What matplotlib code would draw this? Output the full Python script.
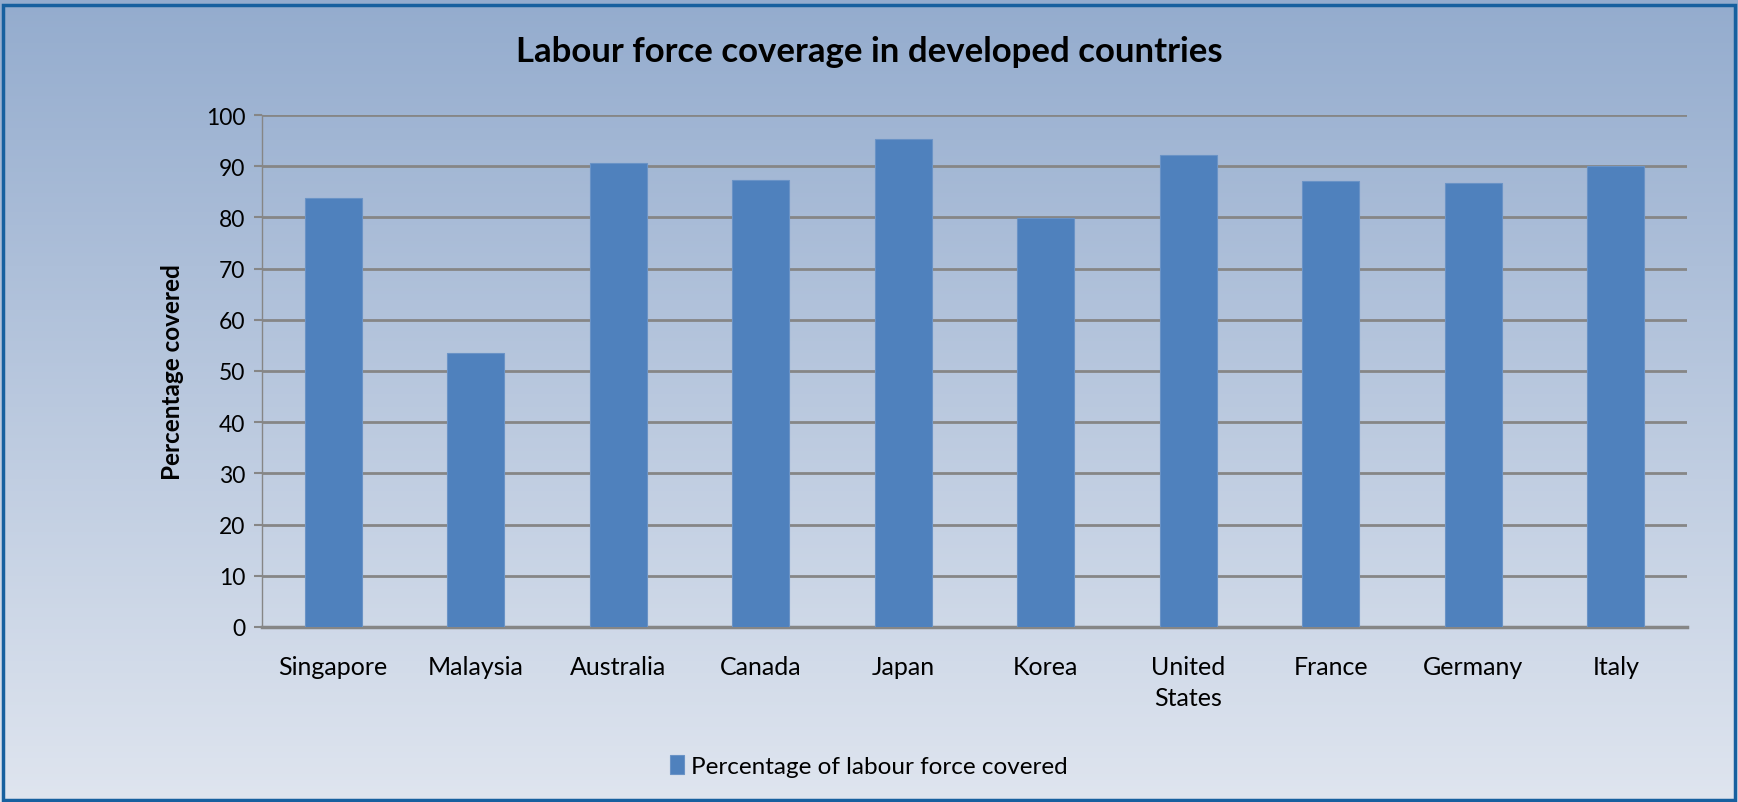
import numpy as np
import matplotlib
matplotlib.use('Agg')
import matplotlib.pyplot as plt
from matplotlib.patches import Rectangle

# values
countries = ['Singapore', 'Malaysia', 'Australia', 'Canada', 'Japan', 'Korea',
             'United\nStates', 'France', 'Germany', 'Italy']
covered = [83.8, 53.5, 90.6, 87.3, 95.3, 79.9, 92.1, 87.2, 86.8, 90.0]
yticks = [0, 10, 20, 30, 40, 50, 60, 70, 80, 90, 100]

plt.rcParams['font.family'] = ['Lato', 'DejaVu Sans']

fig = plt.figure(figsize=(17.38, 8.03), dpi=100)

# gradient background
bg = fig.add_axes([0, 0, 1, 1], zorder=-10)
top = np.array([0x94, 0xac, 0xce]) / 255
bot = np.array([0xdf, 0xe5, 0xef]) / 255
t = np.linspace(0, 1, 256)[:, None]
grad = top[None, :] * (1 - t) + bot[None, :] * t
bg.imshow(grad[:, None, :], aspect='auto', extent=[0, 1, 0, 1])
bg.add_patch(Rectangle((0.002, 0.003), 0.996, 0.99, fill=False,
                       edgecolor='#17609f', linewidth=2.5, transform=bg.transAxes))
bg.set_axis_off()

ax = fig.add_axes([0.1507, 0.218, 0.8200, 0.6375])
ax.patch.set_alpha(0)
x = np.arange(len(countries))
ax.bar(x, covered, width=0.4, color='#4f81bd', edgecolor='#6a93c6',
       linewidth=0.8, zorder=3, label='Percentage of labour force covered')

ax.set_xlim(-0.5, len(countries) - 0.5)
ax.set_ylim(0, 100)
ax.set_yticks(yticks)
ax.yaxis.grid(True, color='#868686', linewidth=2, zorder=0)
ax.set_axisbelow(True)
ax.set_xticks(x)
ax.set_xticklabels(countries, fontsize=18, linespacing=1.45)
ax.tick_params(axis='x', length=0, pad=20)
ax.tick_params(axis='y', length=6, width=1.5, color='#868686', labelsize=16.5, pad=6)
for s in ['top', 'right']:
    ax.spines[s].set_visible(False)
ax.spines['left'].set_color('#868686')
ax.spines['left'].set_linewidth(1)
ax.spines['bottom'].set_color('#868686')
ax.spines['bottom'].set_linewidth(2.5)

ax.set_ylabel('Percentage covered', fontsize=17.5, fontweight='bold', labelpad=16)

fig.text(0.5, 0.935, 'Labour force coverage in developed countries', ha='center',
         va='center', fontsize=25, fontweight='bold')

ax.legend(loc='center', bbox_to_anchor=(0.5, 0.045), bbox_transform=fig.transFigure,
          frameon=False, fontsize=17.5, handlelength=0.55, handleheight=0.85,
          handletextpad=0.3)

fig.savefig('out.png', dpi=100)
